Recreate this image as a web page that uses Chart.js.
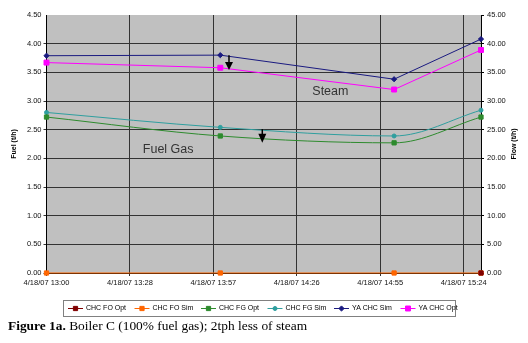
<!DOCTYPE html>
<html>
<head>
<meta charset="utf-8">
<script src="https://cdn.jsdelivr.net/npm/chart.js@4.4.0/dist/chart.umd.min.js"></script>
<style>
  body { margin: 0; background: #fff; }
  #wrap { position: relative; width: 528px; height: 343px; }
  #chart { position: absolute; left: 0; top: 0; }
  #caption {
    position: absolute; left: 8px; top: 318px;
    font-family: 'Liberation Serif', 'Times New Roman', serif;
    font-size: 13.4px; color: #000; white-space: nowrap;
  }
</style>
</head>
<body>
<div id="wrap">
  <canvas id="chart" width="528" height="343"></canvas>
  <div id="caption"><b>Figure 1a.</b> Boiler C (100% fuel gas); 2tph less of steam</div>
</div>
<script>
// times are minutes after 4/18/07 13:00
const times = [0, 60, 120, 150];
const tickTimes = [0, 28.8, 57.6, 86.4, 115.2, 144];
const tickLabels = ['4/18/07 13:00', '4/18/07 13:28', '4/18/07 13:57', '4/18/07 14:26', '4/18/07 14:55', '4/18/07 15:24'];

// fuel, t/h (left axis)
const chcFoOpt = [null, null, null, 0];
const chcFoSim = [0, 0, 0, 0];
const chcFgOpt = [2.72, 2.39, 2.27, 2.72];
const chcFgSim = [2.80, 2.54, 2.39, 2.84];
// steam flow, t/h (right axis)
const yaChcSim = [37.9, 38.0, 33.8, 40.8];
const yaChcOpt = [36.7, 35.8, 32.0, 38.9];

const notes = [
  { text: 'Steam', x: 98, y: 3.16 },
  { text: 'Fuel Gas', x: 42, y: 2.15 }
];
const arrows = [
  { x: 63, y1: 3.80, y2: 3.54, head: 8 },
  { x: 74.5, y1: 2.51, y2: 2.27, head: 9 }
];

function pts(vals) {
  return vals.map((v, i) => ({ x: times[i], y: v }));
}

const series = [
  { label: 'CHC FO Opt', data: pts(chcFoOpt), color: '#800000', marker: 'rect', r: 3, axis: 'y', smooth: false },
  { label: 'CHC FO Sim', data: pts(chcFoSim), color: '#ff6600', marker: 'rect', r: 3, axis: 'y', smooth: false },
  { label: 'CHC FG Opt', data: pts(chcFgOpt), color: '#2e8b2e', marker: 'rect', r: 3, axis: 'y', smooth: true },
  { label: 'CHC FG Sim', data: pts(chcFgSim), color: '#2f9f9f', marker: 'circle', r: 2, axis: 'y', smooth: true },
  { label: 'YA CHC Sim', data: pts(yaChcSim), color: '#1a1a80', marker: 'rectRot', r: 2.6, axis: 'y2', smooth: false },
  { label: 'YA CHC Opt', data: pts(yaChcOpt), color: '#ff00ff', marker: 'rect', r: 3.5, axis: 'y2', smooth: false }
];

const font = { family: "'Liberation Sans', Arial, sans-serif", size: 7.5 };

const plotBg = {
  id: 'plotBg',
  beforeDraw(chart) {
    const { ctx, chartArea: a } = chart;
    ctx.save();
    ctx.fillStyle = '#c0c0c0';
    ctx.fillRect(a.left, a.top, a.right - a.left, a.bottom - a.top);
    ctx.restore();
  }
};

const extras = {
  id: 'extras',
  afterDraw(chart) {
    const { ctx } = chart;
    const xs = chart.scales.x, ys = chart.scales.y;
    ctx.save();
    // notes
    ctx.fillStyle = '#333';
    ctx.font = "12.5px 'Liberation Sans', Arial, sans-serif";
    ctx.textAlign = 'center';
    ctx.textBaseline = 'middle';
    notes.forEach(n => ctx.fillText(n.text, xs.getPixelForValue(n.x), ys.getPixelForValue(n.y)));
    // arrows
    ctx.strokeStyle = '#000';
    ctx.fillStyle = '#000';
    ctx.lineWidth = 1.5;
    arrows.forEach(a => {
      const x = xs.getPixelForValue(a.x);
      const t = ys.getPixelForValue(a.y1), b = ys.getPixelForValue(a.y2);
      ctx.beginPath();
      ctx.moveTo(x, t);
      ctx.lineTo(x, b - a.head + 1);
      ctx.stroke();
      ctx.beginPath();
      ctx.moveTo(x - 4, b - a.head);
      ctx.lineTo(x + 4, b - a.head);
      ctx.lineTo(x, b);
      ctx.closePath();
      ctx.fill();
    });
    // axis titles
    ctx.font = "bold 7px 'Liberation Sans', Arial, sans-serif";
    ctx.fillStyle = '#000';
    [[14, 'Fuel (t/h)'], [514, 'Flow (t/h)']].forEach(([x, t]) => {
      ctx.save();
      ctx.translate(x, 144);
      ctx.rotate(-Math.PI / 2);
      ctx.fillText(t, 0, 0);
      ctx.restore();
    });
    // legend
    const lx = 63, ly = 300, lw = 392, lh = 16;
    ctx.fillStyle = '#fff';
    ctx.fillRect(lx, ly, lw, lh);
    ctx.strokeStyle = '#808080';
    ctx.lineWidth = 1;
    ctx.strokeRect(lx + 0.5, ly + 0.5, lw, lh);
    ctx.font = "7px 'Liberation Sans', Arial, sans-serif";
    ctx.textAlign = 'left';
    const cy = ly + lh / 2 + 0.5;
    series.forEach((s, i) => {
      const x0 = lx + 5 + i * 66.5;
      ctx.strokeStyle = s.color;
      ctx.lineWidth = 1;
      ctx.beginPath();
      ctx.moveTo(x0, cy);
      ctx.lineTo(x0 + 15, cy);
      ctx.stroke();
      ctx.fillStyle = s.color;
      Chart.helpers.drawPoint(ctx, { pointStyle: s.marker, radius: s.r, borderWidth: 1 }, x0 + 7.5, cy);
      ctx.fillStyle = '#000';
      ctx.fillText(s.label, x0 + 18, cy);
    });
    ctx.restore();
  }
};

new Chart(document.getElementById('chart'), {
  type: 'line',
  data: {
    datasets: series.map(s => ({
      label: s.label,
      data: s.data,
      yAxisID: s.axis,
      borderColor: s.color,
      backgroundColor: s.color,
      borderWidth: 1,
      pointStyle: s.marker,
      pointRadius: s.r,
      pointBorderWidth: 1,
      cubicInterpolationMode: s.smooth ? 'monotone' : 'default',
      tension: s.smooth ? 0.4 : 0,
      spanGaps: true,
      clip: false
    }))
  },
  options: {
    responsive: false,
    animation: false,
    layout: { padding: { top: 15, left: 0, right: 0, bottom: 0 } },
    plugins: { legend: { display: false }, tooltip: { enabled: false } },
    scales: {
      x: {
        type: 'linear',
        min: 0,
        max: 150,
        afterBuildTicks: scale => { scale.ticks = tickTimes.map(v => ({ value: v })); },
        afterFit: scale => { scale.height = 70; },
        ticks: {
          font, color: '#111', padding: 2, maxRotation: 0, autoSkip: false,
          callback: (v, i) => tickLabels[i]
        },
        grid: { color: '#333', lineWidth: 1, tickLength: 3 },
        border: { color: '#000' }
      },
      y: {
        position: 'left',
        min: 0, max: 4.5,
        afterFit: scale => { scale.width = 46.5; },
        ticks: { font, color: '#111', stepSize: 0.5, padding: 2, callback: v => v.toFixed(2) },
        grid: {
          color: ctx => ctx.tick && ctx.tick.value === 4.5 ? 'rgba(0,0,0,0)' : '#333',
          lineWidth: 1, tickLength: 3
        },
        border: { color: '#000' }
      },
      y2: {
        position: 'right',
        min: 0, max: 45,
        afterFit: scale => { scale.width = 47; },
        ticks: { font, color: '#111', stepSize: 5, padding: 3, callback: v => v.toFixed(2) },
        grid: { drawOnChartArea: false, color: '#000', tickLength: 3 },
        border: { color: '#000' }
      }
    }
  },
  plugins: [plotBg, extras]
});
</script>
</body>
</html>
